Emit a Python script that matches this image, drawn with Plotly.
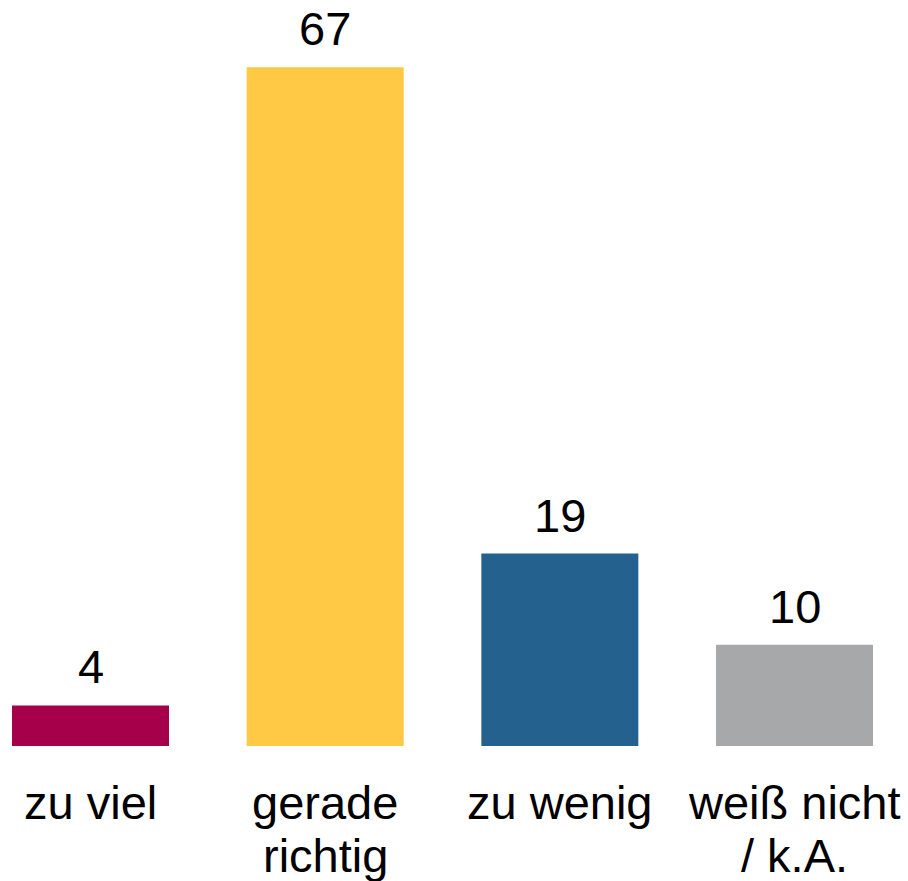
import plotly.graph_objects as go

categories = ["zu viel", "gerade\nrichtig", "zu wenig", "weiß nicht\n/ k.A."]
values = [4, 67, 19, 10]
colors = ["#A6004A", "#FFC845", "#24618F", "#A7A8AA"]

FONT = "Liberation Sans, Arial, sans-serif"
FS = 47

fig = go.Figure()
fig.add_trace(go.Bar(
    x=categories, y=values, marker=dict(color=colors, line=dict(width=0)),
    width=0.669, showlegend=False, hoverinfo="skip",
))

annotations = []
for c, v in zip(categories, values):
    annotations.append(dict(
        x=c, y=v, xref="x", yref="y", text=str(v), showarrow=False,
        yanchor="bottom", yshift=10, font=dict(family=FONT, size=FS, color="#000000"),
    ))
    for i, line in enumerate(c.split("\n")):
        annotations.append(dict(
            x=c, y=0, xref="x", yref="paper", text=line, showarrow=False,
            yanchor="top", yshift=-28 - 53 * i,
            font=dict(family=FONT, size=FS, color="#000000"),
        ))

fig.update_layout(
    width=908, height=881,
    margin=dict(l=0, r=0, t=0, b=135),
    paper_bgcolor="white", plot_bgcolor="white",
    xaxis=dict(range=[-0.3857, 3.4836], showticklabels=False, showgrid=False,
               zeroline=False, showline=False, ticks=""),
    yaxis=dict(range=[0, 73.64], showticklabels=False, showgrid=False,
               zeroline=False, showline=False, ticks=""),
    annotations=annotations,
    font=dict(family=FONT),
)
fig.write_html("out.html", config={"displayModeBar": False},
               post_script="document.body.style.margin='0';")
